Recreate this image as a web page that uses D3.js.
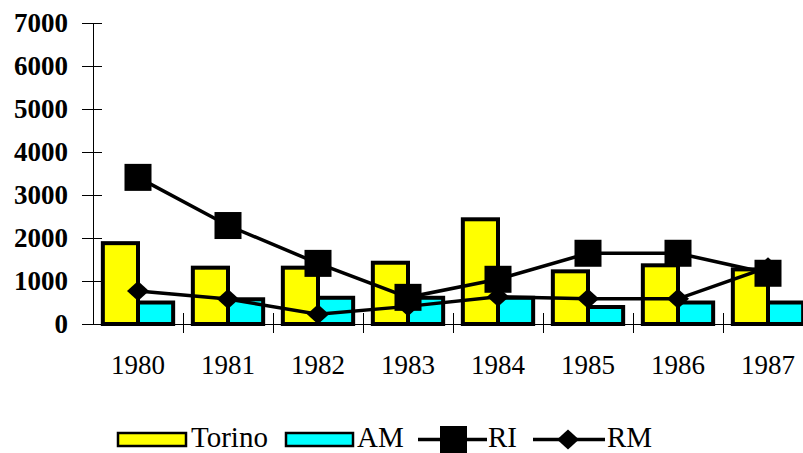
<!DOCTYPE html>
<html>
<head>
<meta charset="utf-8">
<script src="https://cdn.jsdelivr.net/npm/d3@7"></script>
<style>
body { margin: 0; background: #fff; }
svg { display: block; }
.axis path, .axis line { stroke: #000; stroke-width: 1px; shape-rendering: crispEdges; }
svg text { font-family: "Liberation Serif", "Times New Roman", Times, serif; fill: #000; }
</style>
</head>
<body>
<div id="chart"></div>
<script>
var years = ["1980", "1981", "1982", "1983", "1984", "1985", "1986", "1987"];
var torino = [1880, 1310, 1310, 1425, 2435, 1225, 1365, 1270];
var am = [500, 575, 610, 610, 610, 395, 500, 500];
var ri = [3410, 2290, 1410, 620, 1040, 1645, 1645, 1180];
var rm = [770, 580, 225, 410, 635, 585, 585, 1320];
var yTicks = [0, 1000, 2000, 3000, 4000, 5000, 6000, 7000];

var width = 803, height = 453;
var plotLeft = 93, plotRight = 813, plotTop = 23, plotBottom = 324;
var serif = "'Liberation Serif', 'Times New Roman', Times, serif";

var svg = d3.select("#chart").append("svg")
    .attr("width", width)
    .attr("height", height);

var x0 = d3.scaleBand().domain(years).range([plotLeft, plotRight]).padding(0);
var x1 = d3.scaleBand().domain(["Torino", "AM"])
    .range([0, x0.bandwidth()]).paddingInner(0).paddingOuter(0.28);
var y = d3.scaleLinear().domain([0, 7000]).range([plotBottom, plotTop]);

var colors = {Torino: "#ffff00", AM: "#00ffff"};

// bars
var groups = svg.selectAll(".year")
    .data(years)
    .enter().append("g")
    .attr("class", "year")
    .attr("transform", function(d) { return "translate(" + x0(d) + ",0)"; });

groups.selectAll("rect")
    .data(function(d, i) { return [{id: "Torino", val: torino[i]}, {id: "AM", val: am[i]}]; })
    .enter().append("rect")
    .attr("x", function(d) { return x1(d.id); })
    .attr("width", x1.bandwidth())
    .attr("y", function(d) { return y(d.val); })
    .attr("height", function(d) { return plotBottom - y(d.val); })
    .style("fill", function(d) { return colors[d.id]; })
    .style("stroke", "#000")
    .style("stroke-width", 4);

// axes
var yAxis = svg.append("g")
    .attr("class", "axis")
    .attr("transform", "translate(" + plotLeft + ",0)")
    .call(d3.axisLeft(y).tickValues(yTicks).tickFormat(d3.format("d"))
        .tickSize(11).tickSizeOuter(0).tickPadding(14));
yAxis.attr("font-family", null);
yAxis.selectAll(".tick line").attr("x1", 9);
yAxis.selectAll(".tick text")
    .style("font-family", serif)
    .style("font-size", "27px")
    .style("font-weight", "bold")
    .attr("dy", "0.32em");

var xAxis = svg.append("g")
    .attr("class", "axis")
    .attr("transform", "translate(0," + plotBottom + ")")
    .call(d3.axisBottom(x0).tickSize(0).tickSizeOuter(0).tickPadding(0));
xAxis.attr("font-family", null);
xAxis.selectAll(".tick text")
    .style("font-family", serif)
    .style("font-size", "27px")
    .attr("y", 50)
    .attr("dy", 0);

// cross ticks between the categories
svg.selectAll(".xtick")
    .data(years)
    .enter().append("line")
    .attr("class", "xtick")
    .attr("x1", function(d) { return x0(d) + x0.step(); })
    .attr("x2", function(d) { return x0(d) + x0.step(); })
    .attr("y1", plotBottom - 11)
    .attr("y2", plotBottom + 9)
    .style("stroke", "#000")
    .style("shape-rendering", "crispEdges");

var cx = function(i) { return x0(years[i]) + x0.bandwidth() / 2; };
var line = d3.line()
    .x(function(d, i) { return cx(i); })
    .y(function(d) { return y(d); });

var diamond = "M0,-10L11,0L0,10L-11,0Z";

// RM line
svg.append("path")
    .attr("d", line(rm))
    .style("fill", "none")
    .style("stroke", "#000")
    .style("stroke-width", 3.5);
svg.selectAll(".rm")
    .data(rm)
    .enter().append("path")
    .attr("class", "rm")
    .attr("d", diamond)
    .attr("transform", function(d, i) { return "translate(" + cx(i) + "," + y(d) + ")"; })
    .style("fill", "#000");

// RI line
svg.append("path")
    .attr("d", line(ri))
    .style("fill", "none")
    .style("stroke", "#000")
    .style("stroke-width", 3.5);
svg.selectAll(".ri")
    .data(ri)
    .enter().append("rect")
    .attr("class", "ri")
    .attr("x", function(d, i) { return cx(i) - 13.5; })
    .attr("y", function(d) { return y(d) - 13.5; })
    .attr("width", 27)
    .attr("height", 27)
    .style("fill", "#000");

// legend
var legend = svg.append("g").attr("class", "legend");

legend.append("rect")
    .attr("x", 118).attr("y", 433).attr("width", 68).attr("height", 13)
    .style("fill", colors.Torino).style("stroke", "#000").style("stroke-width", 2.5);
legend.append("text")
    .attr("x", 191).attr("y", 446.5).text("Torino");

legend.append("rect")
    .attr("x", 286).attr("y", 433).attr("width", 67).attr("height", 13)
    .style("fill", colors.AM).style("stroke", "#000").style("stroke-width", 2.5);
legend.append("text")
    .attr("x", 357).attr("y", 446.5).text("AM");

legend.append("line")
    .attr("x1", 418).attr("x2", 487).attr("y1", 439.5).attr("y2", 439.5)
    .style("stroke", "#000").style("stroke-width", 3.5);
legend.append("rect")
    .attr("x", 440).attr("y", 426).attr("width", 27).attr("height", 27)
    .style("fill", "#000");
legend.append("text")
    .attr("x", 488).attr("y", 446.5).text("RI");

legend.append("line")
    .attr("x1", 533).attr("x2", 605).attr("y1", 439.5).attr("y2", 439.5)
    .style("stroke", "#000").style("stroke-width", 3.5);
legend.append("path")
    .attr("d", diamond)
    .attr("transform", "translate(568,439.5)")
    .style("fill", "#000");
legend.append("text")
    .attr("x", 607).attr("y", 446.5).text("RM");

legend.selectAll("text")
    .style("font-family", serif)
    .style("font-size", "29px")
    .style("fill", "#000");
</script>
</body>
</html>
